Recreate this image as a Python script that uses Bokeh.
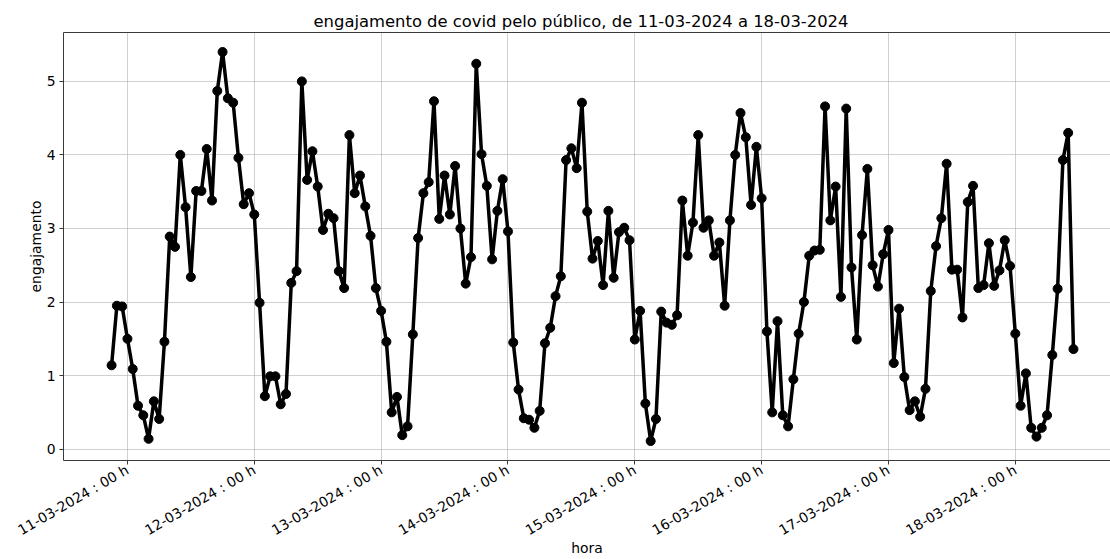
import pandas as pd
from math import pi
from bokeh.plotting import figure
from bokeh.models import (Range1d, FixedTicker, DatetimeTickFormatter, LinearAxis,
                          ColumnDataSource)
from bokeh.embed import file_html
from bokeh.resources import INLINE

# ---------------- data ----------------
start_time = "2024-03-10 21:00"
engajamento = [
    1.14, 1.95, 1.94, 1.50, 1.09, 0.59, 0.46, 0.14, 0.65, 0.41,
    1.46, 2.89, 2.75, 4.00, 3.29, 2.34, 3.51, 3.51, 4.08, 3.38,
    4.87, 5.40, 4.77, 4.71, 3.96, 3.33, 3.48, 3.19, 1.99, 0.72,
    0.99, 0.99, 0.61, 0.75, 2.26, 2.42, 5.00, 3.66, 4.05, 3.57,
    2.98, 3.20, 3.14, 2.42, 2.19, 4.27, 3.48, 3.72, 3.30, 2.90,
    2.19, 1.88, 1.46, 0.50, 0.71, 0.19, 0.31, 1.56, 2.87, 3.48,
    3.63, 4.73, 3.13, 3.72, 3.19, 3.85, 3.00, 2.25, 2.61, 5.24,
    4.01, 3.58, 2.58, 3.24, 3.67, 2.96, 1.45, 0.81, 0.42, 0.40,
    0.29, 0.52, 1.44, 1.65, 2.08, 2.35, 3.93, 4.09, 3.82, 4.71,
    3.23, 2.59, 2.83, 2.23, 3.24, 2.33, 2.95, 3.01, 2.84, 1.49,
    1.88, 0.62, 0.11, 0.41, 1.87, 1.72, 1.69, 1.82, 3.38, 2.63,
    3.08, 4.27, 3.01, 3.11, 2.63, 2.81, 1.95, 3.11, 4.00, 4.57,
    4.24, 3.32, 4.11, 3.41, 1.60, 0.50, 1.74, 0.46, 0.31, 0.95,
    1.57, 2.00, 2.63, 2.70, 2.71, 4.66, 3.11, 3.57, 2.07, 4.63,
    2.47, 1.49, 2.91, 3.81, 2.50, 2.21, 2.65, 2.98, 1.17, 1.91,
    0.98, 0.53, 0.65, 0.44, 0.82, 2.15, 2.76, 3.14, 3.88, 2.44,
    2.44, 1.79, 3.36, 3.58, 2.19, 2.23, 2.80, 2.22, 2.43, 2.84,
    2.49, 1.57, 0.59, 1.03, 0.29, 0.17, 0.29, 0.46, 1.28, 2.18,
    3.93, 4.30, 1.36,
]
tick_dates = ["2024-03-11", "2024-03-12", "2024-03-13", "2024-03-14",
              "2024-03-15", "2024-03-16", "2024-03-17", "2024-03-18"]
y_ticks = [0, 1, 2, 3, 4, 5]
title_text = "engajamento de covid pelo público, de 11-03-2024 a 18-03-2024"
x_label = "hora"
y_label = "engajamento"

# ---------------- layout ----------------
W, H = 1110, 559
BL, BR, BT, BB = 63, 0, 32, 99
FONT = "DejaVu Sans"
SPINE = "#3a3a3a"

times = pd.date_range(start_time, periods=len(engajamento), freq="h")
span = times[-1] - times[0]
x0 = times[0] - 0.05 * span
px_per_hour = 5.285
frame_w = W - BL - BR
x1 = x0 + pd.Timedelta(hours=frame_w / px_per_hour)

vmin, vmax = min(engajamento), max(engajamento)
pad = 0.05 * (vmax - vmin)

src = ColumnDataSource(dict(t=times, v=engajamento))

p = figure(width=W, height=H, x_axis_type="datetime",
           x_range=Range1d(x0.to_pydatetime(), x1.to_pydatetime()),
           y_range=Range1d(vmin - pad, vmax + pad),
           output_backend="svg", toolbar_location=None, title=title_text,
           min_border_left=BL, min_border_right=BR, min_border_top=BT,
           min_border_bottom=BB)

p.background_fill_color = "white"
p.border_fill_color = "white"
p.outline_line_color = None

p.title.text_font = FONT
p.title.text_font_size = "16.4px"
p.title.text_font_style = "normal"
p.title.text_color = "black"
p.title.align = "left"
p.title.standoff = 3
p.title.offset = 250

tick_ms = [pd.Timestamp(d).value // 10**6 for d in tick_dates]
fmt = "%d-%m-%Y : %H h"
p.xaxis.ticker = FixedTicker(ticks=tick_ms)
p.xaxis.formatter = DatetimeTickFormatter(hours=fmt, hourmin=fmt, days=fmt,
                                          months=fmt, years=fmt, minutes=fmt)
p.xaxis.major_label_orientation = pi / 6
p.xaxis.axis_label = x_label
p.yaxis.ticker = FixedTicker(ticks=y_ticks)
p.yaxis.axis_label = y_label

for ax in (p.xaxis, p.yaxis):
    ax.major_label_text_font = FONT
    ax.major_label_text_font_size = "13.9px"
    ax.major_label_text_color = "black"
    ax.axis_label_text_font = FONT
    ax.axis_label_text_font_size = "13.9px"
    ax.axis_label_text_font_style = "normal"
    ax.axis_label_text_color = "black"
    ax.major_tick_in = 0
    ax.major_tick_out = 4
    ax.minor_tick_line_color = None
    ax.major_tick_line_color = SPINE
    ax.axis_line_color = SPINE
    ax.major_label_standoff = 4
p.yaxis.axis_label_standoff = 0
p.xaxis.axis_label_standoff = -8

top = LinearAxis(ticker=FixedTicker(ticks=[]), major_tick_line_color=None,
                 minor_tick_line_color=None, axis_line_color=SPINE)
p.add_layout(top, "above")

p.xgrid.grid_line_color = "#b0b0b0"
p.ygrid.grid_line_color = "#b0b0b0"
p.xgrid.grid_line_alpha = 0.6
p.ygrid.grid_line_alpha = 0.6

p.line("t", "v", source=src, line_color="black", line_width=3.5)
p.scatter("t", "v", source=src, size=9, color="black")

open("out.html", "w").write(file_html(p, INLINE))
